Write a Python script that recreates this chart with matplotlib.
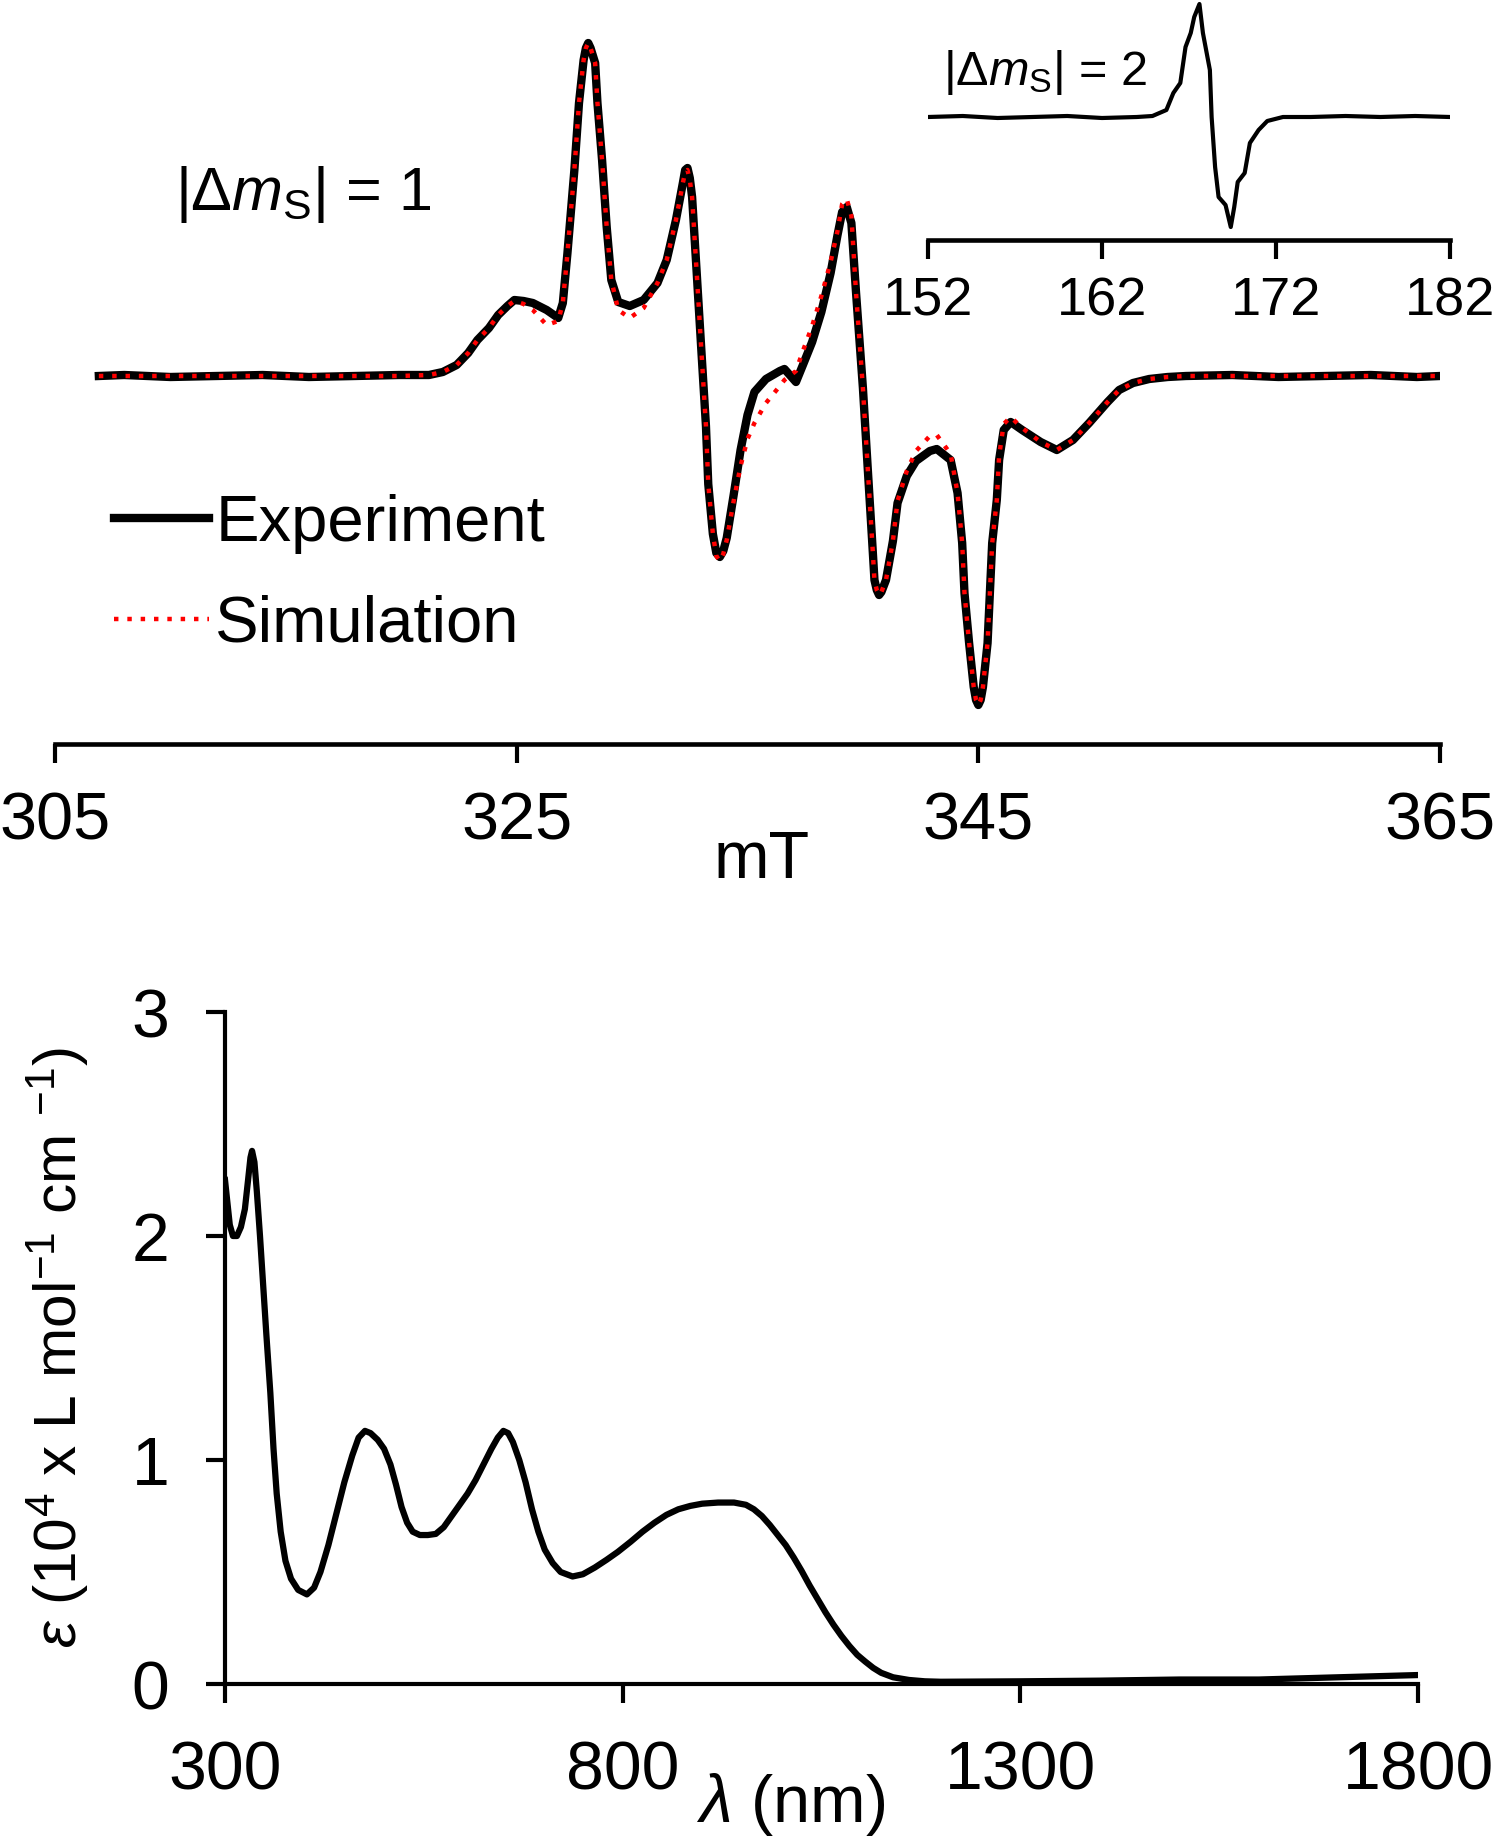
import matplotlib
matplotlib.use("Agg")
import matplotlib.pyplot as plt

plt.rcParams['font.family'] = ['Liberation Sans', 'DejaVu Sans']
plt.rcParams['mathtext.fontset'] = 'custom'
plt.rcParams['mathtext.rm'] = 'Liberation Sans'
plt.rcParams['mathtext.it'] = 'Liberation Sans:italic'
plt.rcParams['mathtext.bf'] = 'Liberation Sans:bold'

# |dms| = 1 region, field in mT, intensity in arbitrary units
epr_field = [306.9, 308, 310, 312, 314, 316, 318, 319.9, 321.2, 321.8, 322.4, 322.9,
             323.3, 323.8, 324.2, 324.6, 324.9, 325.3, 325.7, 326.3, 326.8, 327.0,
             327.2, 327.5, 327.7, 327.9, 328.0, 328.1, 328.2, 328.4, 328.5, 328.7, 328.9, 329.1,
             329.4, 329.9, 330.5, 331.1, 331.5, 331.9, 332.2, 332.3, 332.4, 332.5, 332.6, 332.8,
             333.0, 333.2, 333.3, 333.5, 333.65, 333.8, 333.95, 334.1, 334.4, 334.7, 335.0, 335.3,
             335.8, 336.4, 336.6, 337.1, 337.4, 337.8, 338.2, 338.6, 338.9, 339.1,
             339.3, 339.5, 339.7, 340.0, 340.2, 340.4, 340.5, 340.6, 340.7, 340.8, 341.0, 341.3,
             341.5, 341.9, 342.3, 342.9, 343.2, 343.8, 344.1, 344.3, 344.4, 344.6,
             344.8, 344.9, 345.0, 345.1, 345.2, 345.4, 345.5, 345.6, 345.8, 345.9, 346.1, 346.4,
             346.9, 347.7, 348.4, 349.1, 349.8, 350.6, 351.1, 351.7, 352.4, 353.2,
             354, 356, 358, 360, 362, 364, 365]
epr_exp = [0, 1, -1, 0, 1, -1, 0, 1, 1, 4, 11, 23,
           36, 48, 61, 70, 76, 75, 73, 66, 58, 73,
           123, 206, 273, 316, 328, 333, 328, 313, 273, 216, 149, 96,
           74, 70, 76, 93, 116, 156, 193, 206, 208, 198, 179, 103,
           26, -50, -108, -158, -177, -181, -175, -162, -119, -74, -39, -16,
           -3, 5, 7, -6, 11, 34, 64, 103, 141, 164,
           169, 153, 84, -12, -89, -165, -204, -214, -219, -216, -204, -165,
           -127, -100, -85, -75, -73, -84, -117, -167, -217, -267,
           -311, -324, -329, -324, -311, -267, -217, -167, -124, -84, -54, -46,
           -54, -66, -74, -64, -47, -26, -14, -7, -3, -1,
           0, 1, -1, 0, 1, -1, 0]
epr_sim = [0, 0, 0, 0, 0, 0, 0, 0, 1, 4, 11, 23,
           36, 48, 61, 70, 75, 72, 66, 51, 55, 73,
           123, 206, 273, 316, 328, 333, 328, 313, 273, 216, 149, 96,
           66, 58, 68, 93, 116, 156, 193, 204, 206, 196, 179, 103,
           26, -50, -108, -158, -180, -185, -178, -164, -125, -90, -63, -47,
           -27, -10, -4, 5, 25, 50, 80, 114, 145, 172,
           177, 160, 84, -12, -89, -165, -204, -214, -219, -216, -204, -165,
           -125, -95, -75, -60, -59, -78, -117, -167, -217, -267,
           -311, -324, -329, -324, -311, -267, -217, -167, -124, -80, -48, -41,
           -52, -66, -74, -64, -47, -26, -14, -7, -3, -1,
           0, 0, 0, 0, 0, 0, 0]

# |dms| = 2 half-field region
half_field = [152, 154, 156, 158, 160, 162, 164, 164.9, 165.7, 166.1, 166.5, 166.8,
              167.1, 167.3, 167.6, 167.8, 168.2, 168.3, 168.5, 168.7, 169.1, 169.4,
              169.6, 169.8, 170.2, 170.5, 171.0, 171.5, 172.4, 174, 176, 178, 180, 182]
half_int = [0, 1, -1, 0, 1, -1, 0, 1, 7, 24, 34, 70,
            84, 100, 113, 84, 47, 0, -50, -80, -88, -110,
            -90, -65, -56, -26, -13, -4, 0, 0, 1, 0, 1, 0]

# UV-vis-NIR
wl = [300, 303, 306, 310, 315, 320, 325, 329, 332, 334, 337, 340, 344, 348, 352, 357,
      361, 365, 370, 376, 383, 392, 403, 412, 420, 430, 440, 450, 460, 468, 476, 483,
      492, 500, 508, 515, 522, 529, 536, 545, 555, 565, 575, 585, 595, 605, 615, 625,
      635, 643, 650, 656, 662, 670, 678, 686, 694, 702, 712, 722, 737, 750, 765, 780,
      794, 810, 825, 840, 855, 870, 885, 900, 920, 940, 955, 965, 975, 985, 995, 1005,
      1015, 1025, 1035, 1045, 1055, 1065, 1075, 1085, 1095, 1105, 1115, 1125, 1140, 1160,
      1180, 1200, 1300, 1400, 1500, 1600, 1700, 1750, 1800]
eps = [2.25, 2.15, 2.05, 2.00, 2.00, 2.04, 2.12, 2.25, 2.35, 2.38, 2.33, 2.20, 2.00, 1.78,
       1.56, 1.30, 1.05, 0.85, 0.68, 0.55, 0.47, 0.42, 0.40, 0.43, 0.50, 0.62, 0.76, 0.90,
       1.02, 1.10, 1.13, 1.12, 1.09, 1.05, 0.98, 0.89, 0.79, 0.72, 0.68, 0.665, 0.665, 0.67,
       0.70, 0.75, 0.80, 0.85, 0.91, 0.98, 1.05, 1.10, 1.13, 1.12, 1.08, 1.00, 0.90, 0.78,
       0.68, 0.60, 0.54, 0.50, 0.48, 0.49, 0.52, 0.555, 0.59, 0.635, 0.68, 0.72, 0.755, 0.78,
       0.795, 0.805, 0.81, 0.81, 0.80, 0.78, 0.75, 0.71, 0.665, 0.62, 0.565, 0.505, 0.44,
       0.38, 0.32, 0.265, 0.215, 0.17, 0.13, 0.10, 0.072, 0.05, 0.03, 0.018, 0.012, 0.01,
       0.012, 0.015, 0.02, 0.02, 0.03, 0.035, 0.04]

W, H = 1500, 1843
fig = plt.figure(figsize=(W / 100, H / 100), dpi=100)

def frame(x0, y0, x1, y1):
    # pixel box (top-left origin) -> figure fraction
    return [x0 / W, 1 - y1 / H, (x1 - x0) / W, (y1 - y0) / H]

# main EPR spectrum
ax1 = fig.add_axes(frame(55, 0, 1440, 744))
ax1.plot(epr_field, epr_exp, color='black', lw=6, label='Experiment',
         solid_joinstyle='round')
ax1.plot(epr_field, epr_sim, color='red', lw=3.2, ls=(0, (1, 2)), label='Simulation')
ax1.set_xlim(305, 365)
ax1.set_ylim(-368, 376)
ax1.set_xticks([305, 325, 345, 365])
ax1.set_yticks([])
for s in ['left', 'right', 'top']:
    ax1.spines[s].set_visible(False)
ax1.spines['bottom'].set_linewidth(3.3)
ax1.tick_params(axis='x', direction='out', length=14, width=3, pad=20, labelsize=48)
ax1.set_xlabel('mT', fontsize=48)
ax1.xaxis.set_label_coords(0.51, -0.115)
ax1.patch.set_alpha(0)

fig.text(175 / W, 1 - 210 / H, '|Δ$m_{\\mathrm{S}}$| = 1', fontsize=44, va='baseline')

leg = ax1.legend(loc='upper left', bbox_to_anchor=(114 / W, 1 - 494 / H),
                 bbox_transform=fig.transFigure, frameon=False, fontsize=47,
                 handlelength=1.45, handletextpad=0.1, labelspacing=0.62,
                 borderpad=0, borderaxespad=0)

# half-field inset
ax2 = fig.add_axes(frame(928, 0, 1450, 240))
ax2.plot(half_field, half_int, color='black', lw=3, solid_joinstyle='round')
ax2.set_xlim(152, 182)
ax2.set_ylim(-123, 117)
ax2.set_xticks([152, 162, 172, 182])
ax2.set_yticks([])
for s in ['left', 'right', 'top']:
    ax2.spines[s].set_visible(False)
ax2.spines['bottom'].set_linewidth(3.3)
ax2.tick_params(axis='x', direction='out', length=14, width=3, pad=12, labelsize=39)
ax2.patch.set_alpha(0)
fig.text(943 / W, 1 - 85 / H, '|Δ$m_{\\mathrm{S}}$| = 2', fontsize=35, va='baseline')

# absorption spectrum
ax3 = fig.add_axes(frame(225, 1012, 1418, 1684))
ax3.plot(wl, eps, color='black', lw=4.5, solid_joinstyle='round')
ax3.set_xlim(300, 1800)
ax3.set_ylim(0, 3)
ax3.set_xticks([300, 800, 1300, 1800])
ax3.set_yticks([0, 1, 2, 3])
for s in ['right', 'top']:
    ax3.spines[s].set_visible(False)
ax3.spines['bottom'].set_linewidth(3)
ax3.spines['left'].set_linewidth(3)
ax3.tick_params(direction='out', length=14, width=3, pad=26, labelsize=49)
ax3.set_xlabel('$\\mathit{λ}$ (nm)', fontsize=48)
ax3.xaxis.set_label_coords(0.474, -0.13)
ax3.set_ylabel('$\\mathit{ε}$ (10$^{4}$ x L mol$^{-1}$ cm $^{-1}$)', fontsize=43.5)
ax3.yaxis.set_label_coords(-0.112, 0.5)

fig.savefig('out.png', dpi=100)
